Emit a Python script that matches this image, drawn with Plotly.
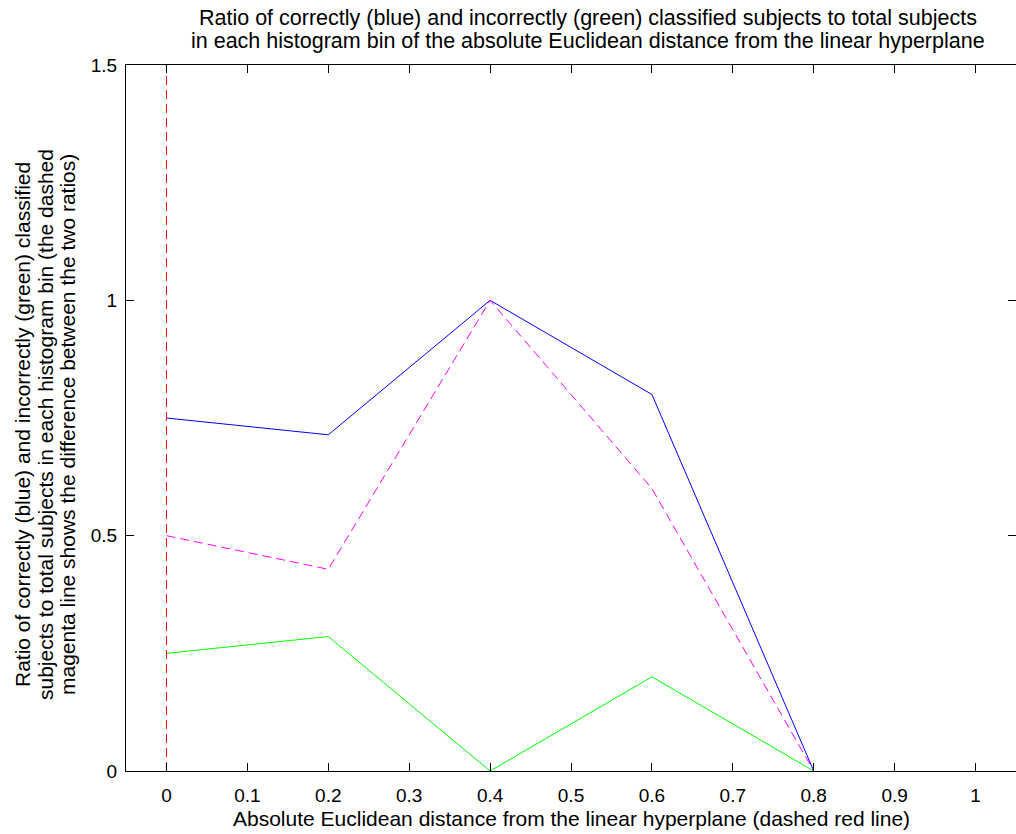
import plotly.graph_objects as go

distance = [0.0, 0.2, 0.4, 0.6, 0.8]
correct_ratio = [0.75, 0.7143, 1.0, 0.8, 0.0]
incorrect_ratio = [0.25, 0.2857, 0.0, 0.2, 0.0]
difference = [0.5, 0.4286, 1.0, 0.6, 0.0]
hyperplane_x = [0.0, 0.0]
hyperplane_y = [0.0, 1.5]

x_ticks = [0, 0.1, 0.2, 0.3, 0.4, 0.5, 0.6, 0.7, 0.8, 0.9, 1]
x_ticklabels = ["0", "0.1", "0.2", "0.3", "0.4", "0.5", "0.6", "0.7", "0.8", "0.9", "1"]
y_ticks = [0, 0.5, 1, 1.5]
y_ticklabels = ["0", "0.5", "1", "1.5"]

title_lines = ["Ratio of correctly (blue) and incorrectly (green) classified subjects to total subjects",
               "in each histogram bin of the absolute Euclidean distance from the linear hyperplane"]
ylabel_lines = ["Ratio of correctly (blue) and incorrectly (green) classified",
                "subjects to total subjects in each histogram bin (the dashed",
                "magenta line shows the difference between the two ratios)"]
xlabel = "Absolute Euclidean distance from the linear hyperplane (dashed red line)"

font = "Liberation Sans, Arial, sans-serif"

fig = go.Figure()
fig.add_trace(go.Scatter(x=distance, y=correct_ratio, mode="lines",
                         line=dict(color="#0000FF", width=1)))
fig.add_trace(go.Scatter(x=distance, y=incorrect_ratio, mode="lines",
                         line=dict(color="#00FF00", width=1)))
fig.add_trace(go.Scatter(x=distance, y=difference, mode="lines",
                         line=dict(color="#FF00FF", width=1, dash="9px,5px")))
fig.add_trace(go.Scatter(x=hyperplane_x, y=hyperplane_y, mode="lines",
                         line=dict(color="#FF0000", width=1, dash="9px,5px")))

axis_common = dict(showgrid=False, zeroline=False, showline=True, linecolor="#000000",
                   linewidth=1, mirror="ticks", ticks="inside", ticklen=8,
                   tickcolor="#000000", tickfont=dict(family=font, size=19, color="#000"))

fig.update_xaxes(range=[-0.05, 1.05], tickvals=x_ticks, ticktext=x_ticklabels,
                 ticklabelstandoff=7, **axis_common)
fig.update_yaxes(range=[0, 1.5], tickvals=y_ticks, ticktext=y_ticklabels,
                 ticklabelstandoff=4, **axis_common)

# plot area in pixels: left 126, right 1016, top 65, bottom 771
def px_x(px):
    return (px - 126) / 890.0

def px_y(py):
    return (771 - py) / 706.0

annotations = []
for line, py in zip(title_lines, [18, 41]):
    annotations.append(dict(text=line, xref="paper", yref="paper", x=px_x(588), y=px_y(py),
                            xanchor="center", yanchor="middle", showarrow=False,
                            font=dict(family=font, size=21.5, color="#000")))
for line, px in zip(ylabel_lines, [22, 45, 67]):
    annotations.append(dict(text=line, xref="paper", yref="paper", x=px_x(px), y=px_y(425),
                            xanchor="center", yanchor="middle", showarrow=False, textangle=-90,
                            font=dict(family=font, size=21, color="#000")))
annotations.append(dict(text=xlabel, xref="paper", yref="paper", x=px_x(571), y=px_y(818),
                        xanchor="center", yanchor="middle", showarrow=False,
                        font=dict(family=font, size=21, color="#000")))

fig.update_layout(
    width=1016, height=834,
    margin=dict(l=126, r=0, t=65, b=63),
    paper_bgcolor="#FFFFFF", plot_bgcolor="#FFFFFF",
    showlegend=False,
    annotations=annotations,
)

fig.write_html("out.html")
